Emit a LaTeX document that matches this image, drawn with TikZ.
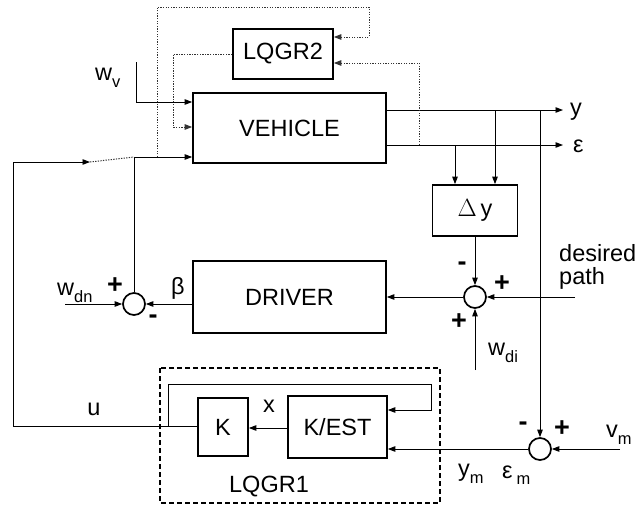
\documentclass[tikz,border=0pt]{standalone}
\usepackage{fontspec}
\setmainfont{Liberation Sans}
\usetikzlibrary{arrows.meta}
\begin{document}
\begin{tikzpicture}[x=1pt,y=-1pt,
  blk/.style={draw, line width=1.7pt, inner sep=0, font=\fontsize{23.5}{26}\selectfont},
  sumc/.style={draw, circle, line width=1.7pt, minimum size=22pt, inner sep=0},
  ln/.style={line width=0.9pt},
  arr/.style={ln, -{Triangle[length=7.5pt,width=5.5pt]}},
  dotl/.style={line width=1pt, dash pattern=on 1.3pt off 1.3pt, black!80},
  darr/.style={dotl, -{Triangle[length=7.5pt,width=5.5pt]}},
  lbl/.style={font=\fontsize{23.5}{21}\selectfont, inner sep=0},
  sgn/.style={font=\fontsize{27}{28}\selectfont\bfseries, inner sep=0}]
\useasboundingbox (0,0) rectangle (638,509);

% blocks
\node[blk, minimum width=100pt, minimum height=50pt] (lqgr2) at (283,54) {LQGR2};
\node[blk, minimum width=193pt, minimum height=70pt] (veh) at (289.5,128) {VEHICLE};
\node[blk, minimum width=85pt, minimum height=51pt] (dy) at (475,210.5) {$\Delta$\,y};
\node[blk, minimum width=193pt, minimum height=72pt] (drv) at (289.5,297) {DRIVER};
\node[blk, minimum width=50pt, minimum height=58pt] (k) at (223,427) {K};
\node[blk, minimum width=99pt, minimum height=62pt] (kest) at (337.5,427) {K/EST};
\draw[line width=1.6pt, dash pattern=on 5pt off 3pt] (160,368) rectangle (440,503);
\node[lbl, anchor=base] (lq1) at (269,492) {LQGR1};

% summing junctions
\node[sumc] (s1) at (134,304) {};
\node[sumc] (s2) at (475,297) {};
\node[sumc] (s3) at (540,449) {};

% coordinates
\coordinate (vy) at (386,110);
\coordinate (yo) at (563,110);
\coordinate (ve) at (386,145);
\coordinate (eo) at (563,145);
\coordinate (jy1) at (495,110);
\coordinate (je1) at (455,145);
\coordinate (jy2) at (540,110);
\coordinate (je2) at (419,145);
\coordinate (dp) at (575,297);
\coordinate (wdi) at (475,370);
\coordinate (wdn) at (65,304);
\coordinate (wv) at (136,62);
\coordinate (vm) at (620,449);
\coordinate (sw1) at (90,162);
\coordinate (sw2) at (134,157);
\coordinate (dtop) at (157,157);
\coordinate (ku) at (198,426);
\coordinate (kl) at (168,426);

% outputs of vehicle
\draw[arr] (vy) -- (yo);
\draw[arr] (ve) -- (eo);
\node[lbl, anchor=base west] (ylab) at (570,115) {y};
\node[lbl, anchor=base west] (elab) at (573,152) {ε};
\draw[arr] (jy1) -- (jy1 |- dy.north);
\draw[arr] (je1) -- (je1 |- dy.north);
\draw[arr] (jy2) -- (s3.north);

% LQGR2 loops (dotted)
\draw[darr] (dtop) -- (157,7) -- (369,7) -- (369,37) -- (lqgr2.east |- 0,37);
\draw[darr] (je2) -- (419,63) -- (lqgr2.east |- 0,63);
\draw[darr] (lqgr2.west) -- (173,54) -- (173,127) -- (veh.west |- 0,127);

% w_v
\draw[arr] (wv) -- (136,102) -- (veh.west |- 0,102);
\node[lbl, anchor=base west] (wvl) at (95,80) {w\textsubscript{\raisebox{-4pt}{v}}};

% driver loop
\draw[arr] (s1.north) -- (sw2) -- (veh.west |- sw2);
\draw[dotl] (sw1) -- (sw2);
\draw[arr] (drv.west |- s1) -- (s1.east);
\draw[arr] (wdn) -- (s1.west);
\node[lbl, anchor=base west] (wdnl) at (57,295) {w\textsubscript{\raisebox{-4pt}{dn}}};
\node[lbl] (beta) at (178,288) {β};
\node[sgn] (p1) at (115,286) {+};
\node[sgn] (m1) at (153,319) {-};

% delta y path
\draw[arr] (dy.south) -- (s2.north);
\draw[arr] (dp) -- (s2.east);
\draw[arr] (wdi) -- (s2.south);
\draw[arr] (s2.west) -- (drv.east);
\node[sgn] (m2) at (462,266) {-};
\node[sgn] (p2) at (502,284) {+};
\node[sgn] (p3) at (459,322) {+};
\node[lbl, anchor=base west] (wdil) at (488,355) {w\textsubscript{\raisebox{-4pt}{di}}};
\node[lbl, anchor=base west] (dpl1) at (559,261) {desired};
\node[lbl, anchor=base west] (dpl2) at (559,284) {path};

% LQGR1 loop
\draw[arr] (ku) -- (13,426) -- (13,162) -- (sw1);
\node[lbl, anchor=base] (ul) at (94,415) {u};
\draw[arr] (kl) -- (168,384) -- (431,384) -- (431,410) -- (kest.east |- 0,410);
\draw[arr] (kest.west |- 0,428) -- (k.east |- 0,428);
\node[lbl, anchor=base] (xl) at (269,412) {x};

% bottom summing
\draw[arr] (vm) -- (s3.east);
\draw[arr] (s3.west) -- (kest.east |- s3);
\node[sgn] (m3) at (523,426) {-};
\node[sgn] (p4) at (562,429) {+};
\node[lbl, anchor=base west] (vml) at (606,437) {v\textsubscript{\raisebox{-4pt}{m}}};
\node[lbl, anchor=base west] (yml) at (458,476) {y\textsubscript{\raisebox{-4pt}{m}}};
\node[lbl, anchor=base west] (eml) at (502,478) {ε\,\textsubscript{\raisebox{-3pt}{m}}};
\end{tikzpicture}
\end{document}
